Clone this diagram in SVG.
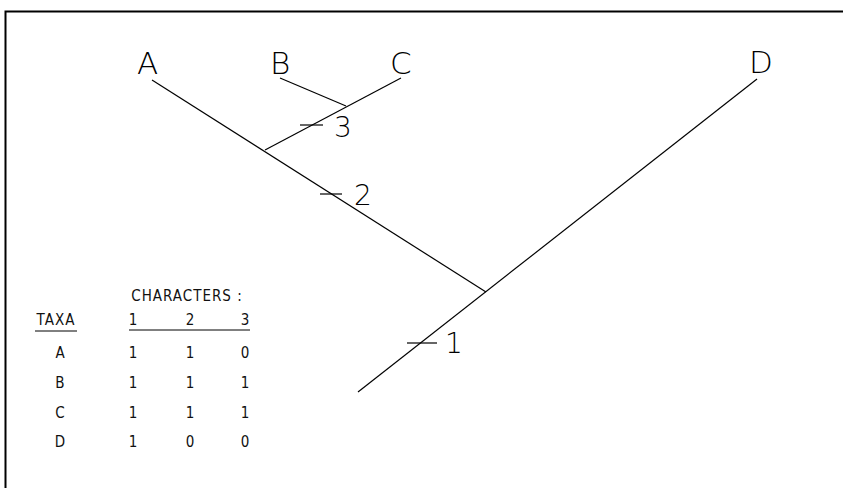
<svg xmlns="http://www.w3.org/2000/svg" width="843" height="488" viewBox="0 0 843 488">
<style>
.ln{stroke:#000;stroke-width:1.2;fill:none}
.lbl{font-family:"DejaVu Sans","Liberation Sans",sans-serif;font-stretch:condensed;font-weight:300;font-size:31px;fill:#000}
.num{font-family:"DejaVu Sans","Liberation Sans",sans-serif;font-stretch:condensed;font-weight:300;font-size:28px;fill:#000}
.tb{font-family:"DejaVu Sans","Liberation Sans",sans-serif;font-stretch:condensed;font-weight:normal;font-size:15px;fill:#111;text-anchor:middle}
</style>
<rect width="843" height="488" fill="#fff"/>
<g id="frame"><path d="M843 11.5 H5.5 V488" stroke="#000" stroke-width="2" fill="none"/></g>
<g id="connectors">
<line class="ln" x1="152" y1="80" x2="486" y2="292"/>
<line class="ln" x1="280" y1="78" x2="346" y2="106"/>
<line class="ln" x1="401" y1="78" x2="265" y2="150"/>
<line class="ln" x1="757" y1="79" x2="358" y2="392"/>
<line class="ln" x1="300" y1="125" x2="323" y2="125"/>
<line class="ln" x1="320" y1="194" x2="342" y2="194"/>
<line class="ln" x1="407" y1="343" x2="437" y2="343"/>
</g>
<g id="node-A"><text class="lbl" x="137" y="74">A</text></g>
<g id="node-B"><text class="lbl" x="270" y="74">B</text></g>
<g id="node-C"><text class="lbl" x="390" y="74">C</text></g>
<g id="node-D"><text class="lbl" x="749" y="73">D</text></g>
<g id="char-3"><text class="num" x="334" y="137">3</text></g>
<g id="char-2"><text class="num" x="354" y="205">2</text></g>
<g id="char-1"><text class="num" x="445" y="353">1</text></g>
<g id="table">
<text class="tb" x="187" y="301" style="letter-spacing:1px">CHARACTERS :</text>
<text class="tb" x="56" y="325" style="letter-spacing:1px">TAXA</text>
<line x1="35" y1="331" x2="77" y2="331" stroke="#000" stroke-width="1"/>
<text class="tb" x="133" y="325">1</text>
<text class="tb" x="190" y="325">2</text>
<text class="tb" x="245" y="325">3</text>
<line x1="129" y1="330" x2="250" y2="330" stroke="#000" stroke-width="1"/>
<text class="tb" x="60" y="358">A</text><text class="tb" x="133" y="358">1</text><text class="tb" x="190" y="358">1</text><text class="tb" x="245" y="358">0</text>
<text class="tb" x="60" y="388">B</text><text class="tb" x="133" y="388">1</text><text class="tb" x="190" y="388">1</text><text class="tb" x="245" y="388">1</text>
<text class="tb" x="60" y="418">C</text><text class="tb" x="133" y="418">1</text><text class="tb" x="190" y="418">1</text><text class="tb" x="245" y="418">1</text>
<text class="tb" x="60" y="447">D</text><text class="tb" x="133" y="447">1</text><text class="tb" x="190" y="447">0</text><text class="tb" x="245" y="447">0</text>
</g>
</svg>
